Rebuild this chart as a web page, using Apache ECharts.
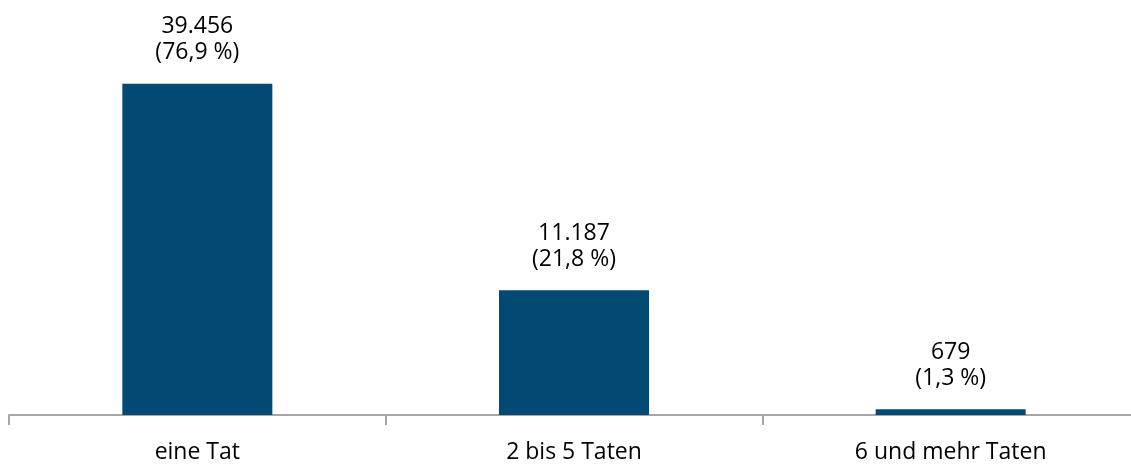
<!DOCTYPE html>
<html><head><meta charset="utf-8">
<script src="https://cdn.jsdelivr.net/npm/echarts@6/dist/echarts.min.js"></script>
<style>html,body{margin:0;padding:0;background:#fff;overflow:hidden}#c{width:1139px;height:464px}</style>
</head><body><div id="c"></div>
<script>
const categories = ['eine Tat', '2 bis 5 Taten', '6 und mehr Taten'];
// bar heights as drawn in the reference
const barValues = [39456, 14850, 679];
const countLabels = ['39.456', '11.187', '679'];
const percentLabels = ['76,9 %', '21,8 %', '1,3 %'];

const chart = echarts.init(document.getElementById('c'));
chart.setOption({
  animation: false,
  grid: { left: 9, right: 0, top: 0, bottom: 48 },
  xAxis: {
    type: 'category', data: categories,
    axisLine: { lineStyle: { color: '#a6a6a6', width: 2 } },
    axisTick: { show: true, length: 10, lineStyle: { color: '#a6a6a6', width: 2 } },
    axisLabel: { color: '#000', fontSize: 23, fontFamily: 'Open Sans', margin: 26 }
  },
  yAxis: { type: 'value', min: 0, max: 49438, show: false, splitLine: { show: false } },
  series: [{
    type: 'bar', data: barValues, barWidth: 150,
    itemStyle: { color: '#024a73' },
    label: {
      show: true, position: 'top', distance: 18,
      color: '#000', fontSize: 23, fontFamily: 'Open Sans', lineHeight: 26,
      formatter: p => countLabels[p.dataIndex] + '\n(' + percentLabels[p.dataIndex] + ')'
    }
  }]
});
</script></body></html>
